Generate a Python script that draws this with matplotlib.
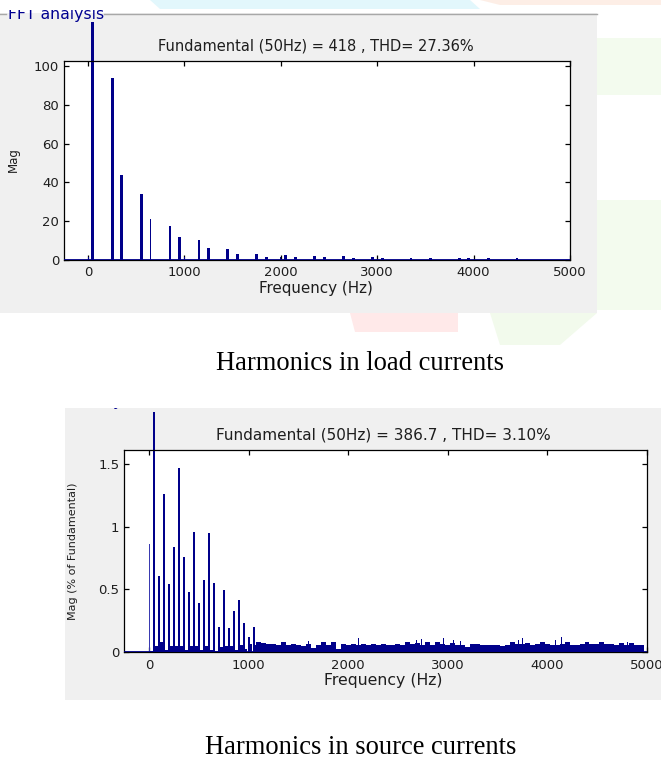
import matplotlib
matplotlib.use('Agg')
import matplotlib.pyplot as plt
from matplotlib.patches import Rectangle, Polygon
from matplotlib.transforms import Bbox, TransformedBbox

# ---------------- data ----------------
# Load current spectrum (absolute magnitude), fundamental 418
load_freq = [0, 50, 250, 350, 550, 650, 850, 950, 1000, 1150, 1250, 1450, 1550,
             1750, 1850, 2000, 2050, 2150, 2350, 2450, 2650, 2750, 2950, 3050,
             3350, 3550, 3850, 3950, 4150, 4450]
load_mag = [1.5, 418, 93.8, 43.8, 34.0, 21.1, 17.7, 11.7, 1.7, 10.3, 6.2, 5.7, 3.3,
            3.1, 1.5, 1.5, 2.6, 1.3, 2.1, 1.3, 2.0, 1.0, 1.5, 1.0,
            1.0, 0.8, 0.8, 0.8, 0.8, 0.8]
load_thin = [0, 650, 1000, 1150, 2000]

# Source current spectrum (% of fundamental)
src_harm_freq = [0, 50, 100, 150, 200, 250, 300, 350, 400, 450, 500, 550, 600,
                 650, 700, 750, 800, 850, 900, 950, 1000, 1050]
src_harm_mag = [0.86, 100, 0.61, 1.26, 0.545, 0.84, 1.47, 0.76, 0.48, 0.96, 0.39,
                0.574, 0.947, 0.548, 0.20, 0.497, 0.194, 0.327, 0.42, 0.23, 0.12, 0.20]
src_inter_freq = [25, 75, 125, 175, 225, 275, 325, 375, 425, 475, 525, 575, 625,
                  675, 725, 775, 825, 875, 925, 975, 1025, 1075]
src_inter_mag = [0.01, 0.05, 0.08, 0.02, 0.05, 0.05, 0.05, 0.02, 0.05, 0.05, 0.02,
                 0.05, 0.02, 0.01, 0.04, 0.05, 0.05, 0.02, 0.06, 0.03, 0.07, 0.06]
src_noise_freq = list(range(1100, 5000, 50))
src_noise_mag = [0.08, 0.075, 0.07, 0.065, 0.06, 0.08, 0.06, 0.065, 0.06, 0.05,
                 0.07, 0.035, 0.06, 0.08, 0.055, 0.08, 0.03, 0.065, 0.06, 0.065,
                 0.06, 0.065, 0.06, 0.07, 0.055, 0.07, 0.06, 0.058, 0.07, 0.06,
                 0.078, 0.068, 0.075, 0.058, 0.078, 0.058, 0.08, 0.07, 0.06, 0.075,
                 0.06, 0.058, 0.04, 0.066, 0.07, 0.058, 0.062, 0.055, 0.058, 0.05,
                 0.06, 0.085, 0.07, 0.065, 0.075, 0.055, 0.07, 0.078, 0.07, 0.06,
                 0.058, 0.065, 0.078, 0.06, 0.058, 0.07, 0.078, 0.068, 0.065, 0.085,
                 0.066, 0.07, 0.058, 0.075, 0.06, 0.075, 0.058, 0.06]
src_spike_freq = [1350, 1600, 1830, 2100, 2610, 2690, 2740, 2960, 3060, 3125, 3715,
                  3750, 4085, 4145, 4810]
src_spike_mag = [0.085, 0.09, 0.085, 0.11, 0.085, 0.10, 0.106, 0.11, 0.10, 0.09, 0.10,
                 0.11, 0.10, 0.12, 0.085]

x_ticks = [0, 1000, 2000, 3000, 4000, 5000]
top_yticks = [0, 20, 40, 60, 80, 100]
bot_yticks = [0, 0.5, 1, 1.5]
bot_yticklabels = ['0', '0.5', '1', '1.5']

title_top = 'Fundamental (50Hz) = 418 , THD= 27.36%'
title_bot = 'Fundamental (50Hz) = 386.7 , THD= 3.10%'
caption_top = 'Harmonics in load currents'
caption_bot = 'Harmonics in source currents'

# ---------------- layout ----------------
W, H = 661, 760
fig = plt.figure(figsize=(W / 100, H / 100), dpi=100)
fig.patch.set_facecolor('white')


def fx(x):
    return x / W


def fy(y):
    return 1 - y / H


def frect(x0, y0, x1, y1, **kw):
    r = Rectangle((fx(x0), fy(y1)), fx(x1) - fx(x0), fy(y0) - fy(y1),
                  transform=fig.transFigure, **kw)
    fig.add_artist(r)
    return r


def fpoly(pts, **kw):
    p = Polygon([(fx(a), fy(b)) for a, b in pts], closed=True,
                transform=fig.transFigure, **kw)
    fig.add_artist(p)
    return p


# faint watermark shapes
fpoly([(150, 0), (470, 0), (480, 9), (160, 9)], facecolor='#E2F7FC', edgecolor='none', zorder=-3)
fpoly([(480, 0), (661, 0), (661, 5), (500, 5)], facecolor='#FDEEE6', edgecolor='none', zorder=-3)
fpoly([(597, 38), (661, 38), (661, 310), (597, 310)], facecolor='#F3FBEE', edgecolor='none', zorder=-3)
fpoly([(597, 95), (661, 95), (661, 200), (597, 200)], facecolor='white', edgecolor='none', zorder=-2.9)
fpoly([(350, 313), (458, 313), (458, 332), (355, 332)], facecolor='#FFE9E9', edgecolor='none', zorder=-3)
fpoly([(490, 313), (597, 313), (560, 345), (500, 345)], facecolor='#F2FAEC', edgecolor='none', zorder=-3)

navy = '#00008A'
txtc = '#1E1E1E'
fs_tick = 9.5

# panels
frect(0, 13, 597, 313, facecolor='#F0F0F0', edgecolor='none', zorder=-1)
fig.add_artist(plt.Line2D([fx(104), fx(597)], [fy(14), fy(14)], transform=fig.transFigure,
                          color='#A8A8A8', lw=1, zorder=-0.5))
fig.add_artist(plt.Line2D([fx(0), fx(6)], [fy(14), fy(14)], transform=fig.transFigure,
                          color='#A8A8A8', lw=1, zorder=-0.5))
frect(65, 408, 661, 700, facecolor='#F0F0F0', edgecolor='none', zorder=-1)

# panel titles (cut off at the top by the page)
fig.text(fx(8), fy(18.5), 'FFT analysis', color='#000090', fontsize=11.3,
         ha='left', va='baseline', zorder=1)
frect(0, 0, 125, 10, facecolor='white', edgecolor='none', zorder=2)
fig.text(fx(143), fy(406), 'FFT analysis', color='#000090', fontsize=11.3,
         ha='right', va='baseline', zorder=1)
frect(20, 380, 160, 407.5, facecolor='white', edgecolor='none', zorder=2)


def style_axes(ax):
    ax.set_facecolor('white')
    for s in ax.spines.values():
        s.set_color('black')
        s.set_linewidth(0.9)
    ax.tick_params(direction='in', top=True, right=True, length=3.5, width=0.9,
                   labelsize=fs_tick, labelcolor=txtc, color='black')
    ax.tick_params(axis='x', pad=4.5)
    ax.tick_params(axis='y', pad=3.5)


def clip_bars(bars, box):
    for p in bars:
        p.set_clip_path(None)
        p.set_clip_box(box)
        p.set_clip_on(True)


# ---------------- top axes ----------------
ax1 = fig.add_axes([fx(64), fy(260), fx(570) - fx(64), fy(61) - fy(260)])
style_axes(ax1)
ax1.set_xlim(-250, 5000)
ax1.set_ylim(0, 102.6)
box1 = TransformedBbox(Bbox.from_extents(0, fy(313), fx(597), fy(22)), fig.transFigure)
widths1 = [12 if f in load_thin else 30 for f in load_freq]
b1 = ax1.bar(load_freq, load_mag, width=widths1, color=navy, linewidth=0, zorder=2)
clip_bars(b1, box1)
ax1.axhline(0, color=navy, lw=1.3, zorder=3)
ax1.set_xticks(x_ticks)
ax1.set_xticklabels([str(v) for v in x_ticks])
ax1.set_yticks(top_yticks)
ax1.set_yticklabels([str(v) for v in top_yticks])

fig.text(fx(315.5), fy(46), title_top, ha='center', va='center', fontsize=10.55, color=txtc)
fig.text(fx(315.5), fy(288), 'Frequency (Hz)', ha='center', va='center', fontsize=10.9, color=txtc)
fig.text(fx(13), fy(160), 'Mag', ha='center', va='center', rotation=90, fontsize=8.5, color=txtc)

# ---------------- bottom axes ----------------
ax2 = fig.add_axes([fx(124.3), fy(652.3), fx(646.7) - fx(124.3), fy(450) - fy(652.3)])
style_axes(ax2)
ax2.set_xlim(-250, 5000)
ax2.set_ylim(0, 1.61)
box2 = TransformedBbox(Bbox.from_extents(fx(65), fy(700), 1, fy(411.5)), fig.transFigure)
b_int = ax2.bar(src_inter_freq, src_inter_mag, width=26, color=navy, linewidth=0, zorder=2)
b_noise = ax2.bar(src_noise_freq, src_noise_mag, width=50, color=navy, linewidth=0, zorder=2)
b_spk = ax2.bar(src_spike_freq, src_spike_mag, width=10, color=navy, linewidth=0, zorder=2)
widths2 = [8 if f == 0 else 20 for f in src_harm_freq]
b_h = ax2.bar(src_harm_freq, src_harm_mag, width=widths2, color=navy, linewidth=0, zorder=2)
for p in b_h:
    if p.get_x() < 0:
        p.set_facecolor('#3A3AB0')
for bars in (b_int, b_noise, b_spk, b_h):
    clip_bars(bars, box2)
ax2.axhline(0, color=navy, lw=1.3, zorder=3)
ax2.set_xticks(x_ticks)
ax2.set_xticklabels([str(v) for v in x_ticks])
ax2.set_yticks(bot_yticks)
ax2.set_yticklabels(bot_yticklabels)

fig.text(fx(383), fy(435.5), title_bot, ha='center', va='center', fontsize=11.0, color=txtc)
fig.text(fx(383), fy(680), 'Frequency (Hz)', ha='center', va='center', fontsize=11.3, color=txtc)
fig.text(fx(73), fy(551), 'Mag (% of Fundamental)', ha='center', va='center', rotation=90,
         fontsize=8.0, color=txtc)

# ---------------- captions ----------------
fig.text(fx(360.5), fy(363), caption_top, ha='center', va='center', fontsize=19.1,
         family='Liberation Serif', color='black')
fig.text(fx(360.5), fy(748), caption_bot, ha='center', va='center', fontsize=19.1,
         family='Liberation Serif', color='black')

fig.savefig('out.png', dpi=100)
